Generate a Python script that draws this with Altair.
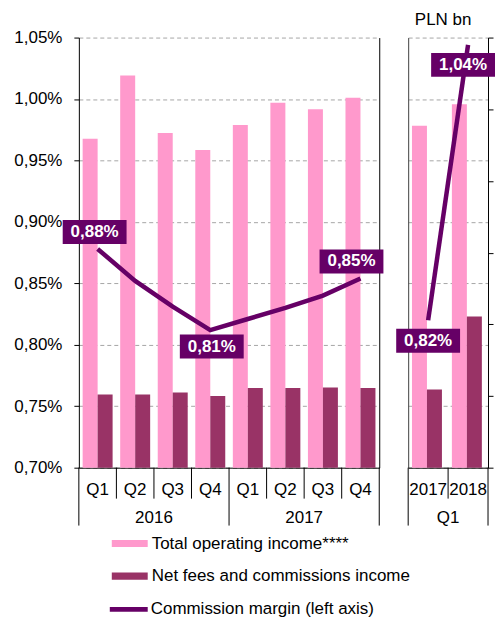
import altair as alt
import pandas as pd

# ---------------- data ----------------
quarters = ["Q1", "Q2", "Q3", "Q4", "Q1", "Q2", "Q3", "Q4"]
years = ["2016", "2016", "2016", "2016", "2017", "2017", "2017", "2017"]
total_income = [4.59, 5.47, 4.67, 4.43, 4.78, 5.09, 5.00, 5.16]
net_fees = [1.02, 1.02, 1.05, 1.00, 1.11, 1.11, 1.12, 1.11]
margin = [0.878, 0.852, 0.831, 0.812, 0.821, 0.830, 0.840, 0.854]
margin_labels = ["0,88%", "", "", "0,81%", "", "", "", "0,85%"]

q1_years = ["2017", "2018"]
q1_total_income = [4.77, 5.07]
q1_net_fees = [1.09, 2.11]
q1_margin = [0.820, 1.044]
q1_margin_labels = ["0,82%", "1,04%"]

series = ["Total operating income****", "Net fees and commissions income",
          "Commission margin (left axis)"]
pct_ticks = [0.70, 0.75, 0.80, 0.85, 0.90, 0.95, 1.00, 1.05]
bn_ticks = [0, 1, 2, 3, 4, 5, 6]
unit_label = "PLN bn"

# ---------------- style ----------------
FONT = "Liberation Sans"
PINK = "#FF99CC"
MAROON = "#993366"
PURPLE = "#660066"
GRID = "#A6A6A6"
H = 431
BOX = "M-1,-0.375L1,-0.375L1,0.375L-1,0.375Z"
PCT_EXPR = "replace(format(datum.value, '.2f'), '.', ',') + '%'"


def build_panel(keys, tick_expr, groups, total, fees, marg, labels, label_offsets,
                width, bar_pad, main_axis, show_right_ticks, legends, unit=None):
    n = len(keys)
    df_bars = pd.DataFrame({"key": keys * 2,
                            "series": [series[0]] * n + [series[1]] * n,
                            "value": list(total) + list(fees)})
    df_line = pd.DataFrame({"key": keys, "margin": marg, "label": labels,
                            "series": [series[2]] * n})
    firsts = [g[1][0] for g in groups]
    df_long = pd.DataFrame({"key": firsts})
    df_end = pd.DataFrame({"key": [keys[-1]]})
    df_short = pd.DataFrame({"key": [k for k in keys if k not in firsts]})
    df_groups = pd.DataFrame({"key": [g[1][len(g[1]) // 2 - 1] for g in groups],
                              "text": [g[0] for g in groups]})

    x_axis = alt.Axis(labelExpr=tick_expr, ticks=False, domainColor="black",
                      labelColor="black", labelFont=FONT, labelFontSize=17,
                      labelPadding=14, labelAngle=0, labelLimit=200)

    def xenc(band=None):
        kw = dict(sort=keys, title=None, axis=x_axis,
                  scale=alt.Scale(domain=keys, paddingInner=0, paddingOuter=0))
        if band is not None:
            kw["bandPosition"] = band
        return alt.X("key:N", **kw)

    if main_axis:
        pct_axis = alt.Axis(orient="left", values=pct_ticks, labelExpr=PCT_EXPR,
                            grid=True, gridColor=GRID, gridDash=[4, 3],
                            tickSize=5, tickColor="black", domainColor="black",
                            labelColor="black", labelFont=FONT, labelFontSize=17,
                            labelPadding=12, title=None)
    else:
        pct_axis = alt.Axis(orient="left", values=pct_ticks, labels=False, ticks=False,
                            grid=True, gridColor=GRID, gridDash=[4, 3],
                            domainColor="#404040", title=None)
    yenc = alt.Y("margin:Q", axis=pct_axis,
                 scale=alt.Scale(domain=[0.70, 1.05], nice=False, zero=False))

    if show_right_ticks:
        bn_axis = alt.Axis(orient="right", values=bn_ticks, labels=False, ticks=True,
                           tickSize=5, tickColor="black", domainColor="black",
                           grid=False, title=None)
    else:
        bn_axis = alt.Axis(orient="right", values=bn_ticks, labels=False, ticks=False,
                           domainColor="black", grid=False, title=None)

    if legends:
        bar_legend = alt.Legend(orient="none", legendX=33, legendY=489, title=None,
                                symbolType="M-1,-0.2L1,-0.2L1,0.2L-1,0.2Z",
                                symbolSize=1296, symbolStrokeWidth=0, symbolOpacity=1,
                                labelFont=FONT, labelFontSize=17, labelColor="black",
                                labelOffset=4, labelLimit=400, rowPadding=6.6, padding=0)
        line_legend = alt.Legend(orient="none", legendX=31, legendY=554, title=None,
                                 symbolType="M-1,-0.12L1,-0.12L1,0.12L-1,0.12Z",
                                 symbolSize=1444, symbolStrokeWidth=0,
                                 symbolFillColor=PURPLE, symbolOpacity=1,
                                 labelFont=FONT, labelFontSize=17, labelColor="black",
                                 labelOffset=3, labelLimit=400, padding=0)
    else:
        bar_legend = None
        line_legend = None

    bars = alt.Chart(df_bars).mark_bar().encode(
        x=xenc(),
        xOffset=alt.XOffset("series:N", sort=series[:2],
                            scale=alt.Scale(domain=series[:2], paddingInner=0,
                                            paddingOuter=bar_pad)),
        y=alt.Y("value:Q", axis=bn_axis, scale=alt.Scale(domain=[0, 6], nice=False)),
        color=alt.Color("series:N", legend=bar_legend,
                        scale=alt.Scale(domain=series[:2], range=[PINK, MAROON])),
    )

    line = alt.Chart(df_line).mark_line(strokeWidth=4.5).encode(
        x=xenc(), y=yenc,
        stroke=alt.Stroke("series:N", legend=line_legend,
                          scale=alt.Scale(domain=[series[2]], range=[PURPLE])),
    )

    inner = [line]
    for key, dx, dy in label_offsets:
        src = alt.Chart(df_line).transform_filter(alt.datum.key == key)
        inner.append(src.mark_point(shape=BOX, size=4096, filled=True, color=PURPLE,
                                    opacity=1, strokeWidth=0, xOffset=dx, yOffset=dy)
                     .encode(x=xenc(), y=yenc))
        inner.append(src.mark_text(font=FONT, fontSize=17, fontWeight="bold",
                                   color="white", dx=dx, dy=dy, align="center",
                                   baseline="middle")
                     .encode(x=xenc(), y=yenc, text="label:N"))

    inner.append(alt.Chart(df_long).mark_rule(color="black", strokeWidth=1).encode(
        x=xenc(0), y=alt.value(H), y2=alt.value(H + 58)))
    inner.append(alt.Chart(df_end).mark_rule(color="black", strokeWidth=1).encode(
        x=xenc(1), y=alt.value(H), y2=alt.value(H + 58)))
    inner.append(alt.Chart(df_short).mark_rule(color="black", strokeWidth=1).encode(
        x=xenc(0), y=alt.value(H), y2=alt.value(H + 31)))
    inner.append(alt.Chart(df_groups).mark_text(font=FONT, fontSize=17, color="black",
                                                align="center", baseline="alphabetic")
                 .encode(x=xenc(1), y=alt.value(H + 55), text="text:N"))
    if unit is not None:
        inner.append(alt.Chart(pd.DataFrame({"text": [unit]}))
                     .mark_text(font=FONT, fontSize=17, color="black", align="center",
                                baseline="alphabetic")
                     .encode(x=alt.value(35), y=alt.value(-13), text="text:N"))

    chart = alt.layer(bars, alt.layer(*inner)).resolve_scale(y="independent")
    return chart.properties(width=width, height=H)


left_keys = [f"{q} {y}" for q, y in zip(quarters, years)]
left_groups = [(y, [k for k, yy in zip(left_keys, years) if yy == y])
               for y in dict.fromkeys(years)]
left = build_panel(left_keys, "split(datum.label, ' ')[0]", left_groups,
                   total_income, net_fees, margin, margin_labels,
                   [("Q1 2016", -3, -17), ("Q4 2016", 1.5, 16.5), ("Q4 2017", -9, -17)],
                   301, 0.253, True, False, True)

right_keys = [f"Q1 {y}" for y in q1_years]
right_groups = [("Q1", right_keys)]
right = build_panel(right_keys, "split(datum.label, ' ')[1]", right_groups,
                    q1_total_income, q1_net_fees, q1_margin, q1_margin_labels,
                    [("Q1 2017", 0, 20.5), ("Q1 2018", -5, 20)],
                    80, 0.43, False, True, False, unit=unit_label)

chart = alt.hconcat(left, right, spacing=29, bounds="flush").resolve_scale(
    x="independent", y="independent", color="independent", stroke="independent"
).configure_view(stroke="transparent").properties(
    padding={"left": 5, "top": 1, "right": 0, "bottom": 0}
)

chart.save("out.html", embed_options={"renderer": "svg", "actions": False})
